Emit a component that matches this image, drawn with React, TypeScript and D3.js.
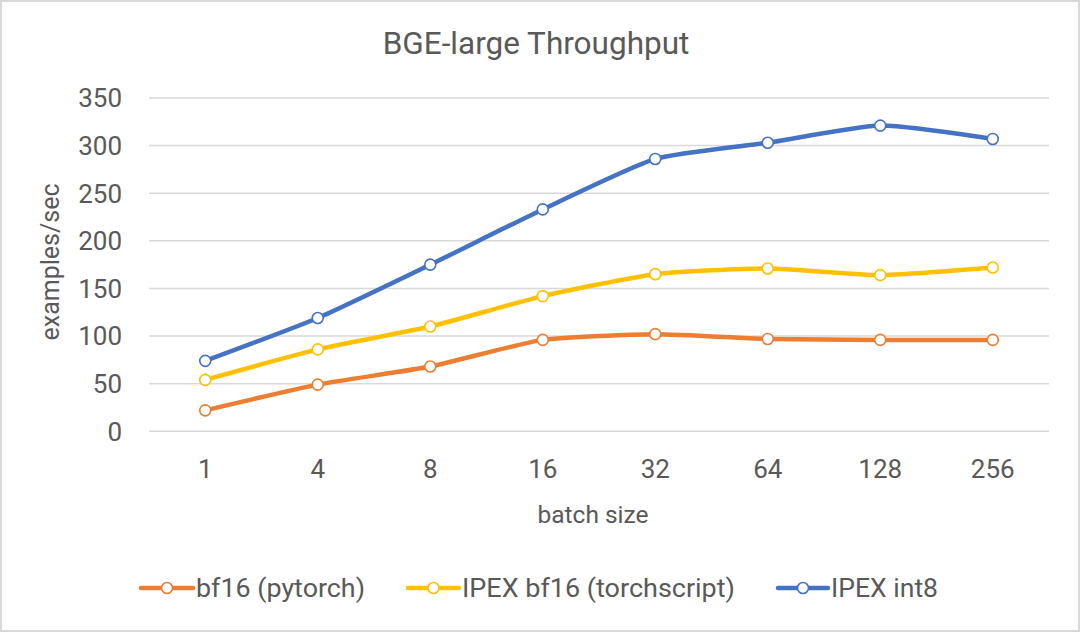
import React from 'react';
import * as d3 from 'd3';

// batch sizes on the x axis
const batchSizes = ['1', '4', '8', '16', '32', '64', '128', '256'];

// throughput in examples/sec
const bf16Pytorch = [22, 49, 68, 96, 102, 97, 96, 96];
const ipexBf16Torchscript = [54, 86, 110, 142, 165, 171, 164, 172];
const ipexInt8 = [74, 119, 175, 233, 286, 303, 321, 307];

const yTicks = [0, 50, 100, 150, 200, 250, 300, 350];

const seriesNames = ['bf16 (pytorch)', 'IPEX bf16 (torchscript)', 'IPEX int8'];
const seriesColors = ['#ED7D31', '#FFC000', '#4472C4'];
const seriesValues = [bf16Pytorch, ipexBf16Torchscript, ipexInt8];

const W = 1080;
const H = 632;
const FONT = 'Roboto, "Open Sans", sans-serif';
const TEXT = '#595959';
const GRID = '#d9d9d9';

const App: React.FC = () => {
  const x = d3.scalePoint().domain(batchSizes).range([149, 1049]).padding(0.5);
  const y = d3.scaleLinear().domain([0, 350]).range([431.3, 98]);

  const line = d3
    .line<number>()
    .x((_, i) => x(batchSizes[i]) as number)
    .y((d) => y(d))
    .curve(d3.curveCardinal.tension(0.45));

  // legend slots: [line start, text start, text width]
  const legendSlots = [
    [141, 196, 169],
    [408, 462, 273],
    [778, 831, 107],
  ];
  const legendY = 588;

  return (
    <div style={{ position: 'absolute', left: 0, top: 0 }}>
      <svg width={W} height={H} style={{ display: 'block', fontFamily: FONT }}>
        <rect x={0} y={0} width={W} height={H} fill="#fff" />
        <rect x={1} y={1} width={W - 2} height={H - 2} fill="none" stroke={GRID} strokeWidth={2} />

        <text x={536} y={54} textAnchor="middle" fontSize={31.5} fill={TEXT}>
          BGE-large Throughput
        </text>

        {/* gridlines and y ticks */}
        {yTicks.map((t) => (
          <g key={t}>
            <line x1={149} x2={1049} y1={y(t)} y2={y(t)} stroke={GRID} strokeWidth={1.5} />
            <text x={122} y={y(t)} dy="0.36em" textAnchor="end" fontSize={26} fill={TEXT}>
              {t}
            </text>
          </g>
        ))}

        {/* x ticks */}
        {batchSizes.map((b) => (
          <text key={b} x={x(b)} y={478} textAnchor="middle" fontSize={26} fill={TEXT}>
            {b}
          </text>
        ))}

        <text x={593} y={523} textAnchor="middle" fontSize={24.5} fill={TEXT}>
          batch size
        </text>
        <text
          transform="translate(59,262) rotate(-90)"
          textAnchor="middle"
          fontSize={25}
          fill={TEXT}
        >
          examples/sec
        </text>

        {/* series */}
        {seriesValues.map((vals, si) => (
          <g key={seriesNames[si]}>
            <path
              d={line(vals) || ''}
              fill="none"
              stroke={seriesColors[si]}
              strokeWidth={4.5}
              strokeLinejoin="round"
              strokeLinecap="round"
            />
            {vals.map((v, i) => (
              <circle
                key={i}
                cx={x(batchSizes[i])}
                cy={y(v)}
                r={5.5}
                fill="#fff"
                stroke={seriesColors[si]}
                strokeWidth={1.6}
              />
            ))}
          </g>
        ))}

        {/* legend */}
        {seriesNames.map((name, si) => {
          const [lx, tx, tw] = legendSlots[si];
          return (
            <g key={name}>
              <line
                x1={lx}
                x2={tx - 3}
                y1={legendY}
                y2={legendY}
                stroke={seriesColors[si]}
                strokeWidth={4.5}
                strokeLinecap="round"
              />
              <circle
                cx={(lx + tx - 3) / 2}
                cy={legendY}
                r={5.5}
                fill="#fff"
                stroke={seriesColors[si]}
                strokeWidth={1.6}
              />
              <text
                x={tx}
                y={legendY}
                dy="0.36em"
                fontSize={26}
                fill={TEXT}
                textLength={tw}
                lengthAdjust="spacingAndGlyphs"
              >
                {name}
              </text>
            </g>
          );
        })}
      </svg>
    </div>
  );
};

export default App;
